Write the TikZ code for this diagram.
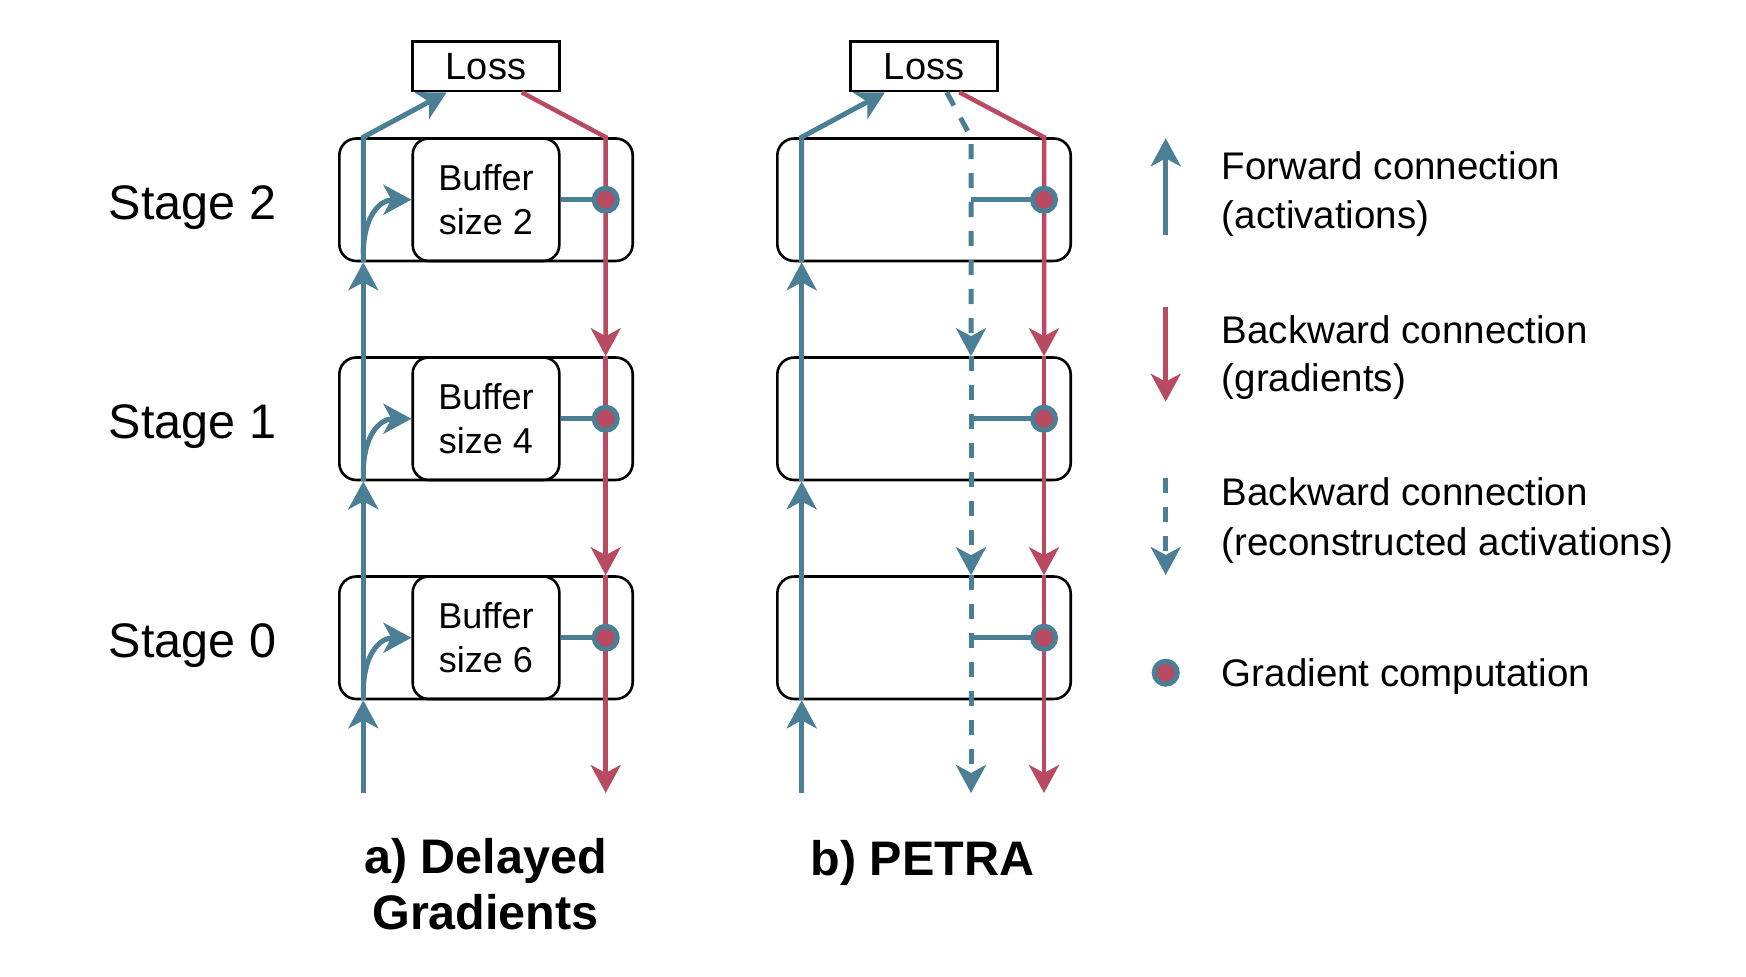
\documentclass[tikz,border=0pt]{standalone}
\usepackage{fontspec}
\setmainfont{Liberation Sans}
\usetikzlibrary{arrows.meta,calc}
\definecolor{fwd}{HTML}{4A7F95}
\definecolor{bwd}{HTML}{B84A61}
\begin{document}
\begin{tikzpicture}[x=1pt,y=-1pt,
  tipst/.tip={Stealth[length=28pt,width=30pt,inset=8pt]},
  stagebox/.style={draw=black,line width=2.6pt,rounded corners=17pt,minimum width=293.4pt,minimum height=122.5pt,inner sep=0pt},
  bufbox/.style={draw=black,line width=2.6pt,rounded corners=16pt,minimum width=146.6pt,minimum height=122.5pt,inner sep=0pt,align=center,font=\fontsize{36}{43.5}\selectfont},
  lossbox/.style={draw=black,line width=2.6pt,minimum width=146.6pt,minimum height=49.3pt,inner sep=0pt,font=\fontsize{38}{44}\selectfont},
  stagelabel/.style={inner sep=0pt,font=\fontsize{48.5}{54}\selectfont},
  caption/.style={inner sep=0pt,align=center,font=\fontsize{48.5}{56}\selectfont\bfseries},
  legtext/.style={inner sep=0pt,anchor=base west,font=\fontsize{38.5}{44}\selectfont},
  fwdline/.style={draw=fwd,line width=5pt},
  bwdline/.style={draw=bwd,line width=4.5pt},
  dashline/.style={draw=fwd,line width=5pt,dash pattern=on 15pt off 14pt},
  gdot/.style={circle,fill=bwd,draw=fwd,line width=5pt,minimum size=23pt,inner sep=0pt},
]
\useasboundingbox (0,0) rectangle (1746,977);

% Loss boxes
\node[lossbox] (lossA) at (486,66.35) {Loss};
\node[lossbox] (lossB) at (924,66.35) {Loss};

% stages
\foreach \i/\y/\b in {2/199.75/2, 1/418.75/4, 0/637.75/6} {
  \node[stagebox] (sa\i) at (486,\y) {};
  \node[bufbox] (buf\i) at (486,\y) {Buffer\\size \b};
  \node[stagebox] (sb\i) at (924,\y) {};
  \node[stagelabel,anchor=base] (lab\i) at (192.5,\y+19.5) {Stage \i};
}

% bottom coordinates
\coordinate (aBlue) at (363.3,793);
\coordinate (aRed) at (605.7,793);
\coordinate (bBlue) at (801.7,793);
\coordinate (bDash) at (971,793);
\coordinate (bRed) at (1044,793);

% ---- a) Delayed gradients
\draw[fwdline,-tipst] (aBlue) -- (aBlue |- sa0.south);
\draw[fwdline,-tipst] (aBlue |- sa0.south) -- (aBlue |- sa1.south);
\draw[fwdline,-tipst] (aBlue |- sa1.south) -- (aBlue |- sa2.south);
\draw[fwdline,-tipst] (aBlue |- sa2.south) -- (aBlue |- sa2.north) -- ($(lossA.south)+(-39.3,0)$);
\foreach \i in {2,1,0} {
  \draw[fwdline,-tipst] ($(aBlue |- sa\i.center)+(0,55)$) .. controls +(0,-38) and +(-32,0) .. (buf\i.west);
}
\draw[bwdline,-tipst] ($(lossA.south)+(35.7,0)$) -- (aRed |- sa2.north) -- (aRed |- sa1.north);
\draw[bwdline,-tipst] (aRed |- sa1.north) -- (aRed |- sa0.north);
\draw[bwdline,-tipst] (aRed |- sa0.north) -- (aRed);
\foreach \i in {2,1,0} {
  \draw[fwdline] (buf\i.east) -- (aRed |- buf\i.east);
  \node[gdot] (da\i) at (aRed |- buf\i.east) {};
}

% ---- b) PETRA
\draw[fwdline,-tipst] (bBlue) -- (bBlue |- sb0.south);
\draw[fwdline,-tipst] (bBlue |- sb0.south) -- (bBlue |- sb1.south);
\draw[fwdline,-tipst] (bBlue |- sb1.south) -- (bBlue |- sb2.south);
\draw[fwdline,-tipst] (bBlue |- sb2.south) -- (bBlue |- sb2.north) -- ($(lossB.south)+(-39,0)$);
\draw[dashline,-tipst] ($(lossB.south)+(22.7,0)$) -- (bDash |- sb2.north) -- (bDash |- sb1.north);
\draw[dashline,-tipst] (bDash |- sb1.north) -- (bDash |- sb0.north);
\draw[dashline,-tipst] (bDash |- sb0.north) -- (bDash);
\draw[bwdline,-tipst] ($(lossB.south)+(35.3,0)$) -- (bRed |- sb2.north) -- (bRed |- sb1.north);
\draw[bwdline,-tipst] (bRed |- sb1.north) -- (bRed |- sb0.north);
\draw[bwdline,-tipst] (bRed |- sb0.north) -- (bRed);
\foreach \i in {2,1,0} {
  \draw[fwdline] (bDash |- sb\i.center) -- (bRed |- sb\i.center);
  \node[gdot] (db\i) at (bRed |- sb\i.center) {};
}

% captions
\node[caption] (capA) at (485.5,884.3) {a) Delayed\\Gradients};
\node[caption,anchor=base] (capB) at (922.5,875) {b) PETRA};

% legend
\coordinate (lf1) at (1165.7,235);
\coordinate (lf2) at (1165.7,138.3);
\coordinate (lr1) at (1165.7,306.7);
\coordinate (lr2) at (1165.7,401.7);
\coordinate (ld1) at (1165.7,478);
\coordinate (ld2) at (1165.7,575);
\draw[fwdline,-tipst] (lf1) -- (lf2);
\draw[bwdline,-tipst] (lr1) -- (lr2);
\draw[dashline,-tipst] (ld1) -- (ld2);
\node[gdot] (ldot) at (1165.7,672.7) {};
\node[legtext] (t1) at (1221.7,179) {Forward connection};
\node[legtext] (t2) at (1221.7,228) {(activations)};
\node[legtext] (t3) at (1221.7,343.3) {Backward connection};
\node[legtext] (t4) at (1221.7,391.5) {(gradients)};
\node[legtext] (t5) at (1221.7,505.7) {Backward connection};
\node[legtext] (t6) at (1221.7,555) {(reconstructed activations)};
\node[legtext] (t7) at (1221.7,686.7) {Gradient computation};
\end{tikzpicture}
\end{document}
